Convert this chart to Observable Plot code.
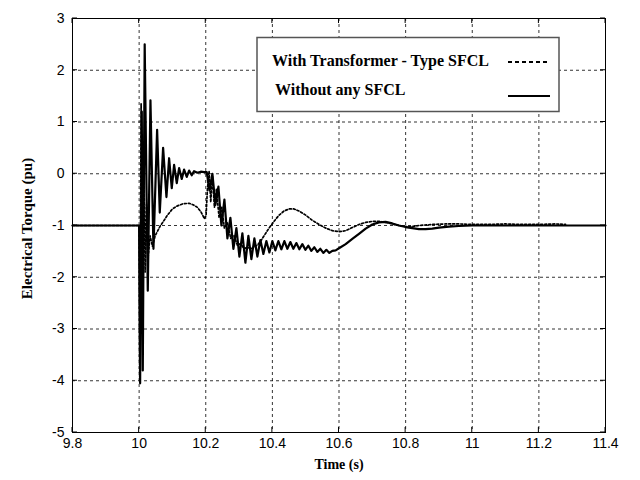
<!DOCTYPE html>
<html>
<head>
<meta charset="utf-8">
<script src="https://cdn.jsdelivr.net/npm/d3@7"></script>
<script src="https://cdn.jsdelivr.net/npm/@observablehq/plot@0.6"></script>
<style>
  html, body { margin: 0; padding: 0; background: #fff; }
  #chart { width: 640px; height: 480px; }
</style>
</head>
<body>
<div id="chart"></div>
<script>
// ---- data ----
const xTicks = [9.8, 10, 10.2, 10.4, 10.6, 10.8, 11, 11.2, 11.4];
const yTicks = [-5, -4, -3, -2, -1, 0, 1, 2, 3];

const seriesNames = ["With Transformer - Type SFCL", "Without any SFCL"];

// Without any SFCL (solid)
const tSolid = [
  9.8, 10.0, 10.003, 10.008, 10.011, 10.0167, 10.026, 10.034, 10.043, 10.054,
  10.062, 10.072, 10.082, 10.09, 10.098, 10.105, 10.113, 10.12, 10.128, 10.135,
  10.143, 10.15, 10.158, 10.165, 10.175, 10.185, 10.195, 10.203,
  10.211, 10.220, 10.229, 10.238, 10.247, 10.256, 10.265, 10.274, 10.283, 10.292,
  10.301, 10.310, 10.319, 10.328, 10.337, 10.346, 10.355, 10.364, 10.373, 10.382,
  10.391, 10.400, 10.409, 10.418, 10.427, 10.436, 10.445, 10.454, 10.463, 10.472,
  10.481, 10.490, 10.499, 10.508, 10.517, 10.526, 10.535, 10.544, 10.553, 10.562,
  10.571, 10.580, 10.59, 10.60, 10.62, 10.64, 10.66, 10.68, 10.70, 10.72,
  10.74, 10.76, 10.78, 10.80, 10.82, 10.84, 10.86, 10.88, 10.90, 10.93,
  10.96, 11.0, 11.4
];
const vSolid = [
  -1, -1, -4.05, 1.2, -3.8, 2.5, -2.26, 1.42, -1.45, 0.85,
  -0.75, 0.5, -0.45, 0.3, -0.28, 0.17, -0.18, 0.11, -0.1, 0.08,
  -0.06, 0.06, -0.03, 0.05, 0.02, 0.04, 0.03, 0.03,
  -0.32, 0.0, -0.6, -0.25, -1.0, -0.5, -1.25, -0.85, -1.45, -1.05,
  -1.6, -1.15, -1.72, -1.2, -1.65, -1.25, -1.6, -1.28, -1.55, -1.3,
  -1.52, -1.3, -1.48, -1.3, -1.46, -1.3, -1.45, -1.32, -1.45, -1.34,
  -1.46, -1.36, -1.47, -1.39, -1.49, -1.42, -1.51, -1.45, -1.53, -1.47,
  -1.53, -1.49, -1.48, -1.44, -1.36, -1.26, -1.16, -1.06, -0.98, -0.94,
  -0.93, -0.96, -1.0, -1.03, -1.05, -1.07, -1.07, -1.06, -1.04, -1.02,
  -1.01, -1.0, -1.0
];

// With Transformer - Type SFCL (dotted)
const tDotted = [
  9.8, 10.0, 10.002, 10.006, 10.010, 10.014, 10.018, 10.022, 10.027, 10.033,
  10.040, 10.048, 10.056, 10.064, 10.072, 10.085, 10.100, 10.115, 10.132, 10.150,
  10.162, 10.175, 10.186, 10.196, 10.201, 10.205, 10.210, 10.215, 10.220, 10.226,
  10.232, 10.240, 10.248, 10.256, 10.265, 10.275, 10.285, 10.295, 10.305, 10.315,
  10.325, 10.335, 10.345, 10.355, 10.365, 10.375, 10.39, 10.405, 10.42, 10.435,
  10.45, 10.465, 10.48, 10.50, 10.52, 10.54, 10.56, 10.58, 10.60, 10.62,
  10.64, 10.66, 10.68, 10.70, 10.72, 10.74, 10.76, 10.78, 10.80, 10.82,
  10.84, 10.88, 10.92, 10.96, 11.0, 11.05, 11.1, 11.15, 11.2, 11.25, 11.28
];
const vDotted = [
  -1, -1, -4.03, 1.35, -2.5, 0.2, -1.9, -0.6, -1.6, -1.2,
  -1.4, -1.2, -1.1, -1.0, -0.93, -0.8, -0.68, -0.62, -0.58, -0.57,
  -0.6, -0.65, -0.74, -0.87, -0.8, -0.3, 0.05, -0.55, -0.05, -0.65,
  -0.3, -0.85, -0.65, -1.05, -0.95, -1.25, -1.2, -1.38, -1.35, -1.45,
  -1.42, -1.45, -1.42, -1.38, -1.3, -1.2, -1.05, -0.92, -0.8, -0.72,
  -0.68, -0.68, -0.72, -0.8, -0.9, -0.98, -1.05, -1.1, -1.12, -1.1,
  -1.04, -0.98, -0.94, -0.92, -0.92, -0.94, -0.97, -1.0, -1.02, -1.02,
  -1.0, -0.98, -0.97, -0.97, -0.98, -0.98, -0.97, -0.98, -0.98, -0.97, -0.98
];

// ---- tables built from the arrays ----
const solid = tSolid.map((t, i) => ({t, v: vSolid[i]}));
const dotted = tDotted.map((t, i) => ({t, v: vDotted[i]}));

const serif = "'Liberation Serif', 'Times New Roman', serif";
const sans = "'Liberation Sans', Arial, sans-serif";

const chart = Plot.plot({
  width: 640,
  height: 480,
  marginLeft: 72,
  marginRight: 35,
  marginTop: 18,
  marginBottom: 48,
  x: {domain: [9.8, 11.4]},
  y: {domain: [-5, 3]},
  style: {fontFamily: sans, fontSize: "14px", background: "#fff", color: "#000", overflow: "visible"},
  marks: [
    Plot.gridX(xTicks, {stroke: "#000", strokeOpacity: 1, strokeWidth: 0.8, strokeDasharray: "3,3"}),
    Plot.gridY(yTicks, {stroke: "#000", strokeOpacity: 1, strokeWidth: 0.8, strokeDasharray: "3,3"}),
    Plot.line(solid, {x: "t", y: "v", stroke: "#000", strokeWidth: 2.2, strokeLinejoin: "round"}),
    Plot.line(dotted, {x: "t", y: "v", stroke: "#000", strokeWidth: 1.7, strokeDasharray: "2,2"}),
    Plot.frame({stroke: "#000", strokeWidth: 1}),
    Plot.axisX(xTicks, {tickSize: 0, tickPadding: 6, tickFormat: d => String(d), label: null, fontSize: 14}),
    Plot.axisY(yTicks, {tickSize: 0, tickPadding: 8, tickFormat: d => String(d), label: null, fontSize: 14}),
    Plot.text(["Time (s)"], {frameAnchor: "bottom", dy: 36, textAnchor: "middle", fontFamily: serif, fontWeight: "bold", fontSize: 14}),
    Plot.text(["Electrical Torque (pu)"], {frameAnchor: "left", dx: -45, dy: 3, rotate: -90, textAnchor: "middle", fontFamily: serif, fontWeight: "bold", fontSize: 15})
  ]
});

document.getElementById("chart").appendChild(chart);

// ---- inward tick marks (MATLAB style) using Plot's scales ----
const sx = chart.scale("x"), sy = chart.scale("y");
const svg = d3.select(chart);
const [x0, x1] = sx.range, [y0, y1] = sy.range; // y0 bottom, y1 top
const tk = svg.append("g").attr("stroke", "#000").attr("stroke-width", 1);
xTicks.forEach(d => {
  const x = sx.apply(d);
  tk.append("line").attr("x1", x).attr("x2", x).attr("y1", y0).attr("y2", y0 - 5);
  tk.append("line").attr("x1", x).attr("x2", x).attr("y1", y1).attr("y2", y1 + 5);
});
yTicks.forEach(d => {
  const y = sy.apply(d);
  tk.append("line").attr("y1", y).attr("y2", y).attr("x1", x0).attr("x2", x0 + 5);
  tk.append("line").attr("y1", y).attr("y2", y).attr("x1", x1).attr("x2", x1 - 5);
});

// ---- legend box ----
const lg = svg.append("g").attr("text-anchor", "start");
lg.append("rect").attr("x", 257).attr("y", 37.5).attr("width", 302).attr("height", 74)
  .attr("fill", "#fff").attr("stroke", "#555").attr("stroke-width", 1.5);
lg.append("text").attr("x", 272).attr("y", 66).attr("text-anchor", "start").text(seriesNames[0])
  .attr("font-family", serif).attr("font-weight", "bold").attr("font-size", 16).attr("fill", "#000");
lg.append("text").attr("x", 275).attr("y", 95).attr("text-anchor", "start").text(seriesNames[1])
  .attr("font-family", serif).attr("font-weight", "bold").attr("font-size", 16).attr("fill", "#000");
lg.append("line").attr("x1", 508).attr("x2", 550).attr("y1", 62).attr("y2", 62)
  .attr("stroke", "#000").attr("stroke-width", 2.2).attr("stroke-dasharray", "4,3");
lg.append("line").attr("x1", 508).attr("x2", 550).attr("y1", 96).attr("y2", 96)
  .attr("stroke", "#000").attr("stroke-width", 2.2);
</script>
</body>
</html>
